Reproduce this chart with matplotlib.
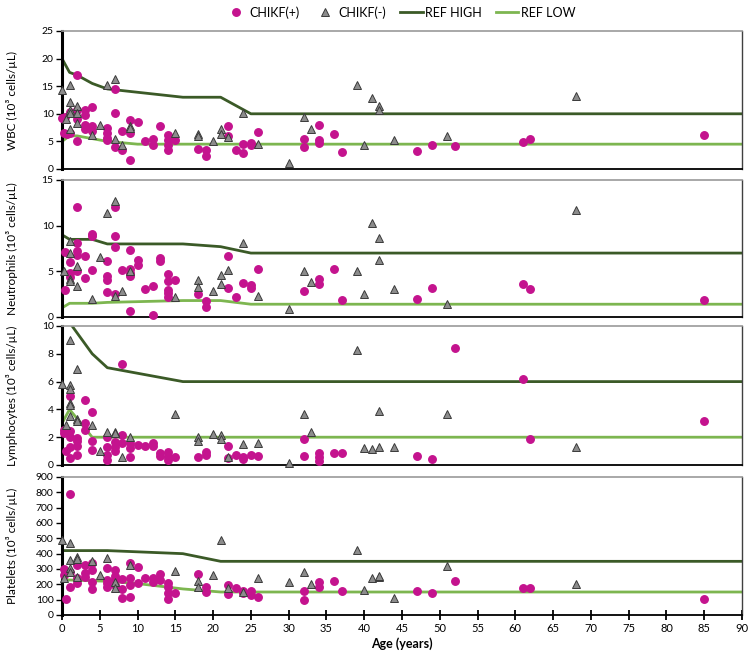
import matplotlib
matplotlib.use("Agg")
import matplotlib.pyplot as plt
from matplotlib.lines import Line2D

plt.rcParams['font.family'] = ['Lato', 'DejaVu Sans']

# reference ranges (age, value)
wbc_ref_x = [0, 1, 2, 4, 6, 16, 21, 25, 90]
wbc_high = [20, 17.5, 17, 15.5, 14.5, 13, 13, 10, 10]
wbc_low_x = [0, 1, 2, 4, 6, 10, 90]
wbc_low = [5, 6, 6, 5.5, 5, 4.5, 4.5]

neu_ref_x = [0, 1, 4, 6, 16, 21, 25, 90]
neu_high = [9, 8.5, 8.5, 8, 8, 7.7, 7, 7]
neu_low = [1, 1.5, 1.5, 1.6, 1.8, 1.8, 1.4, 1.4]

lym_high_x = [0, 4, 6, 16, 90]
lym_high = [11, 8, 7, 6, 6]
lym_low_x = [0, 1, 4, 90]
lym_low = [3, 4, 2, 2]

plt_high_x = [0, 6, 16, 21, 90]
plt_high = [420, 420, 400, 350, 350]
plt_low_x = [0, 6, 10, 16, 21, 90]
plt_low = [230, 220, 205, 170, 150, 150]

# WBC
wbc_pos_x = [0, 0.4, 0.2, 0.6, 1, 1, 2, 2, 2, 2, 3, 3, 3, 3, 4, 4, 4, 6, 6, 6, 6, 7, 7, 7,
             8, 8, 9, 9, 9, 10, 11, 12, 12, 13, 14, 14, 14, 14, 15, 18, 19, 19, 22, 22, 23,
             24, 24, 25, 25, 26, 32, 32, 34, 34, 34, 36, 37, 47, 49, 52, 61, 62, 85]
wbc_pos_y = [9.2, 9.5, 6.5, 6.4, 6.6, 10.3, 17.1, 10.7, 9.0, 5.0, 10.7, 9.7, 8.0, 7.3, 11.3, 7.7, 6.9,
             7.4, 6.6, 5.7, 5.2, 14.5, 10.1, 4.0, 6.8, 3.4, 8.9, 6.6, 1.7, 8.5, 5.0, 5.4, 4.4, 7.8,
             6.1, 5.2, 4.3, 3.5, 5.3, 3.6, 3.4, 2.4, 7.7, 6.0, 3.4, 4.6, 2.9, 4.7, 4.3, 6.7, 5.4, 3.9,
             8.0, 5.2, 4.8, 6.4, 3.0, 3.3, 4.4, 4.2, 4.9, 5.5, 6.1]
wbc_neg_x = [0, 1, 1, 1, 1, 1, 0.5, 2, 2, 2, 4, 5, 6, 7, 7, 8, 9, 9, 15, 18, 18, 20, 21, 21, 22,
             24, 26, 30, 32, 33, 39, 40, 41, 42, 42, 44, 51, 68]
wbc_neg_y = [14.4, 15.3, 12.1, 10.7, 10.2, 7.3, 9.0, 11.5, 10.1, 8.3, 6.2, 8.0, 15.2, 16.3, 5.4, 4.3,
             7.8, 7.4, 6.5, 6.3, 5.9, 5.0, 7.3, 6.3, 5.8, 10.2, 4.6, 1.1, 9.4, 7.2, 15.2, 4.4, 12.8,
             11.5, 10.6, 5.2, 5.9, 13.3]

# Neutrophils
neu_pos_x = [0.4, 0.4, 1, 1, 1, 2, 2, 2, 2, 2, 3, 3, 4, 4, 4, 6, 6, 6, 6, 7, 7, 7, 7, 8, 9, 9, 9,
             9, 9, 10, 10, 11, 12, 12, 13, 13, 14, 14, 14, 14, 14, 15, 18, 19, 19, 22, 22, 23, 24,
             25, 25, 26, 32, 34, 34, 36, 37, 47, 49, 61, 62, 85]
neu_pos_y = [3.0, 7.1, 6.0, 4.8, 4.4, 12.0, 8.1, 7.2, 6.8, 5.0, 6.7, 4.3, 9.1, 8.9, 5.2, 6.1, 4.5,
             4.05, 2.7, 12.0, 8.9, 7.7, 2.5, 5.1, 7.3, 5.3, 4.85, 4.5, 0.65, 6.2, 5.7, 3.1, 3.4, 0.2,
             6.5, 6.1, 4.7, 3.9, 3.0, 2.6, 2.2, 4.1, 2.5, 1.7, 1.1, 6.7, 3.2, 2.2, 3.7, 3.5, 3.2, 5.3,
             2.85, 4.2, 3.65, 5.3, 1.85, 2.0, 3.2, 3.6, 3.1, 1.9]
neu_neg_x = [0.3, 1, 1, 1, 1, 2, 2, 4, 5, 6, 7, 7, 8, 9, 15, 18, 18, 20, 21, 21, 22, 24, 26, 30,
             32, 33, 39, 40, 41, 42, 42, 44, 51, 68]
neu_neg_y = [5.0, 8.3, 7.0, 4.2, 3.9, 5.6, 3.4, 2.0, 6.6, 11.35, 12.7, 2.3, 2.8, 5.0, 2.15, 4.05, 3.3,
             2.85, 4.6, 3.6, 5.1, 8.05, 2.35, 0.9, 5.05, 3.8, 5.05, 2.5, 10.25, 8.7, 6.2, 3.1, 1.4,
             11.7]

# Lymphocytes
lym_pos_x = [0.3, 0.3, 0.5, 1, 1, 1, 1, 1, 2, 2, 2, 2, 3, 3, 3, 4, 4, 4, 6, 6, 6, 6, 7, 7, 7, 8,
             8, 8, 9, 9, 9, 10, 11, 12, 12, 13, 13, 14, 14, 14, 15, 18, 19, 19, 22, 22, 23, 24, 24,
             25, 26, 32, 32, 34, 34, 34, 36, 37, 47, 49, 52, 61, 62, 85]
lym_pos_y = [2.5, 2.3, 1.0, 2.45, 2.0, 1.3, 0.5, 5.0, 1.95, 1.7, 1.4, 0.7, 4.7, 3.0, 2.5, 3.8, 1.7,
             1.1, 2.0, 1.3, 0.7, 0.35, 1.65, 1.3, 1.0, 7.25, 2.15, 1.55, 1.6, 1.2, 0.6, 1.45, 1.4,
             1.6, 1.35, 0.85, 0.65, 0.95, 0.6, 0.35, 0.6, 0.55, 0.95, 0.7, 1.4, 0.5, 0.7, 0.6, 0.43,
             0.75, 0.65, 1.85, 0.67, 0.85, 0.6, 0.3, 0.85, 0.85, 0.67, 0.43, 8.45, 6.2, 1.85, 3.15]
lym_neg_x = [0, 0.5, 1, 1, 1, 1, 1, 1, 2, 2, 2, 4, 5, 6, 7, 7, 8, 9, 15, 18, 18, 20, 21, 21, 22,
             24, 26, 30, 32, 33, 39, 40, 41, 42, 42, 44, 51, 68]
lym_neg_y = [5.8, 2.9, 9.0, 5.75, 5.5, 4.45, 4.3, 3.5, 6.9, 3.3, 3.2, 2.9, 1.0, 2.4, 2.4, 2.3, 0.55,
             2.0, 3.7, 2.05, 1.7, 2.2, 2.15, 1.9, 0.6, 1.5, 1.6, 0.12, 3.7, 2.4, 8.25, 1.2, 1.13,
             3.85, 1.27, 1.27, 3.7, 1.27]

# Platelets
plt_pos_x = [0.3, 0.3, 0.5, 1, 1, 1, 2, 2, 2, 3, 3, 3, 4, 4, 4, 4, 6, 6, 6, 6, 7, 7, 7, 7, 8, 8,
             8, 9, 9, 9, 9, 10, 10, 11, 12, 12, 13, 13, 14, 14, 14, 14, 15, 18, 19, 19, 22, 22, 23,
             24, 24, 25, 25, 26, 32, 32, 34, 34, 36, 37, 47, 49, 52, 61, 62, 85]
plt_pos_y = [300, 260, 102, 791, 185, 280, 327, 240, 211, 327, 272, 250, 338, 294, 218, 168, 309,
             229, 207, 181, 294, 255, 233, 196, 233, 168, 109, 338, 240, 196, 115, 316, 207, 244,
             240, 218, 268, 229, 211, 181, 142, 102, 146, 268, 181, 148, 196, 137, 174, 159, 146,
             159, 131, 120, 159, 98, 218, 185, 224, 159, 157, 146, 222, 174, 174, 107]
plt_neg_x = [0, 0.3, 1, 1, 1, 1, 2, 2, 2, 4, 5, 6, 7, 7, 9, 15, 18, 18, 20, 21, 22, 24, 26, 30,
             32, 33, 39, 40, 41, 42, 42, 44, 51, 68]
plt_neg_y = [490, 240, 468, 360, 305, 283, 377, 365, 250, 349, 261, 370, 218, 174, 327, 288, 224,
             185, 261, 486, 174, 152, 240, 218, 283, 203, 425, 163, 240, 246, 255, 109, 320, 203]

pink = '#C4138E'
dark_green = '#3B5A27'
light_green = '#7DB650'

fig = plt.figure(figsize=(7.48, 6.55), dpi=100)
left, width = 62 / 748, 680 / 748
tops = [31, 180, 326, 477]
bots = [169, 317, 465, 615]

panels = [
    (wbc_ref_x, wbc_high, wbc_low_x, wbc_low, wbc_pos_x, wbc_pos_y, wbc_neg_x, wbc_neg_y,
     25, list(range(0, 26, 5)), 'WBC (10³ cells/µL)'),
    (neu_ref_x, neu_high, neu_ref_x, neu_low, neu_pos_x, neu_pos_y, neu_neg_x, neu_neg_y,
     15, list(range(0, 16, 5)), 'Neutrophils (10³ cells/µL)'),
    (lym_high_x, lym_high, lym_low_x, lym_low, lym_pos_x, lym_pos_y, lym_neg_x, lym_neg_y,
     10, list(range(0, 11, 2)), 'Lymphocytes (10³ cells/µL)'),
    (plt_high_x, plt_high, plt_low_x, plt_low, plt_pos_x, plt_pos_y, plt_neg_x, plt_neg_y,
     900, list(range(0, 901, 100)), 'Platelets (10³ cells/µL)'),
]

axes = []
for i, (hx, hy, lx, ly, px, py, nx, ny, ymax, yt, lab) in enumerate(panels):
    b = 1 - bots[i] / 655
    h = (bots[i] - tops[i]) / 655
    ax = fig.add_axes([left, b, width, h])
    ax.plot(hx, hy, color=dark_green, lw=2.0, zorder=2)
    ax.plot(lx, ly, color=light_green, lw=2.0, zorder=2)
    ax.plot(px, py, 'o', color=pink, ms=5.4, mec=pink, zorder=3, clip_on=False)
    ax.plot(nx, ny, '^', color='#8C8C8C', ms=5.6, mec='#3A3A3A', mew=0.7, zorder=4, clip_on=False)
    ax.set_xlim(0, 90)
    ax.set_ylim(0, ymax)
    ax.set_yticks(yt)
    ax.tick_params(axis='y', direction='out', length=4, width=1, labelsize=7.5, pad=2)
    ax.set_ylabel(lab, fontsize=8.5)
    ax.yaxis.set_label_coords(-0.065, 0.5)
    ax.spines['left'].set_linewidth(2.2)
    ax.spines['left'].set_color('black')
    ax.spines['bottom'].set_linewidth(1.3)
    ax.spines['bottom'].set_color('black')
    ax.spines['top'].set_color('#9A9A9A')
    ax.spines['top'].set_linewidth(1.2)
    ax.spines['right'].set_color('#404040')
    ax.spines['right'].set_linewidth(1.0)
    if i < 3:
        ax.set_xticks([])
    else:
        ax.set_xticks(range(0, 91, 5))
        ax.tick_params(axis='x', direction='inout', length=7, width=1.3, labelsize=8, pad=2)
        ax.set_xlabel('Age (years)', fontsize=9, fontweight='bold', labelpad=3)
    axes.append(ax)

handles = [
    Line2D([], [], ls='none', marker='o', color=pink, ms=5.4),
    Line2D([], [], ls='none', marker='^', color='#8C8C8C', mec='#3A3A3A', mew=0.7, ms=5.6),
    Line2D([], [], color=dark_green, lw=2.0),
    Line2D([], [], color=light_green, lw=2.0),
]
fig.legend(handles, ['CHIKF(+)', 'CHIKF(-)', 'REF HIGH', 'REF LOW'], loc='upper center',
           bbox_to_anchor=(0.535, 1.008), ncol=4, frameon=False, fontsize=9,
           handlelength=1.8, handletextpad=0.2, columnspacing=1.1)

fig.savefig('out.png', dpi=100)
